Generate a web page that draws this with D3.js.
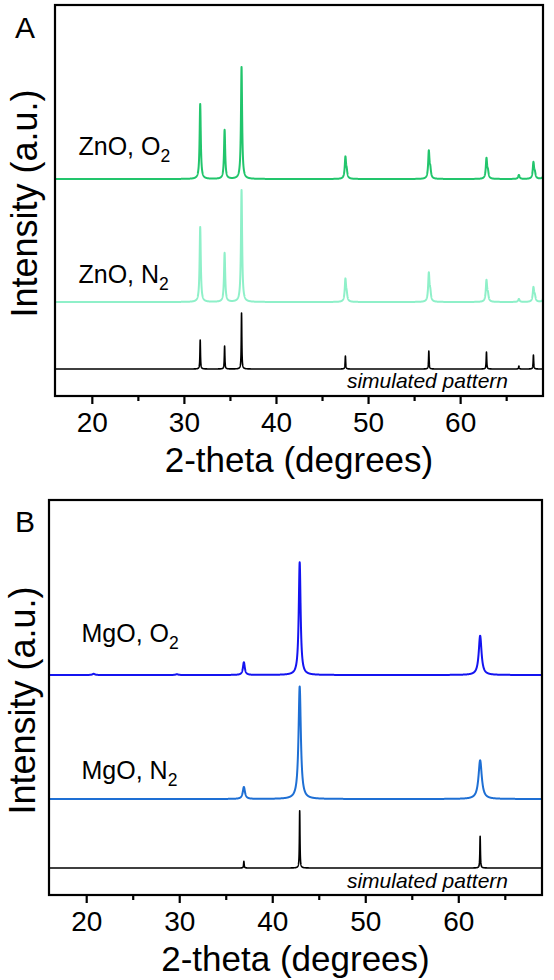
<!DOCTYPE html>
<html>
<head>
<meta charset="utf-8">
<script src="https://cdn.jsdelivr.net/npm/d3@7"></script>
<style>
  body { margin: 0; background: #fff; }
  text { font-family: "Liberation Sans", Arial, sans-serif; fill: #000; }
</style>
</head>
<body>
<div id="chart"></div>
<script>
// ZnO: peak positions (2-theta) and heights
const znoPeaks = [31.77, 34.42, 36.26, 47.54, 47.68, 56.6, 56.76, 62.86, 63.02, 66.38, 67.96, 68.12, 69.1]
const znoO2 = [75, 49, 112, 21, 6, 27, 8, 20, 6, 4, 16, 5, 8]
const znoN2 = [75, 49, 112, 22, 6, 28, 8, 21, 6, 3, 14, 5, 8]
const znoSim = [29, 23, 56, 13, 0, 18, 0, 17, 0, 3, 14, 0, 0]

// MgO: peak positions and heights
const mgoPeaks = [20.8, 29.75, 36.95, 42.95, 62.35]
const mgoO2 = [1.2, 0.8, 12.7, 112.7, 39.3]
const mgoN2 = [0, 0, 12, 112.6, 38.7]
const mgoSim = [0, 0, 6.7, 57.3, 31.7]

// peak half widths (degrees)
const znoWidth = [0.075, 0.075, 0.075, 0.085, 0.085, 0.085, 0.085, 0.085, 0.085, 0.09, 0.085, 0.085, 0.085]
const mgoO2Width = [0.15, 0.15, 0.12, 0.12, 0.18]
const mgoN2Width = [0.15, 0.15, 0.14, 0.15, 0.21]
const simWidth = 0.035

// vertical offsets of the stacked patterns (a.u.)
const znoOffsets = [217, 94, 27]
const mgoOffsets = [220, 96, 27]

const xTicks = [20, 30, 40, 50, 60]
const xMinor = [25, 35, 45, 55, 65]
const xDomain = [16, 69]

var width = 554
var height = 980

var svg = d3.select("#chart")
  .append("svg")
    .attr("width", width)
    .attr("height", height)

svg.append("rect").attr("width", width).attr("height", height).attr("fill", "#fff")

function profile(peaks, heights, widths, offset) {
  var pts = []
  for (var i = 0; i <= 5300; i++) {
    var t = xDomain[0] + i * 0.01
    var v = offset
    peaks.forEach(function(p, j) {
      var w = Array.isArray(widths) ? widths[j] : widths
      var d = (t - p) / w
      v += heights[j] / (1 + d * d)
    })
    pts.push([t, v])
  }
  return pts
}

function panel(cfg) {
  var x = d3.scaleLinear().domain(xDomain).range([cfg.left, cfg.right])
  var y = d3.scaleLinear().domain([0, cfg.bottom - cfg.top]).range([cfg.bottom, cfg.top])

  var g = svg.append("g")

  g.append("clipPath").attr("id", cfg.id)
    .append("rect")
      .attr("x", cfg.left).attr("y", cfg.top)
      .attr("width", cfg.right - cfg.left).attr("height", cfg.bottom - cfg.top)

  var line = d3.line()
    .x(function(d) { return x(d[0]) })
    .y(function(d) { return y(d[1]) })

  g.append("g").attr("clip-path", "url(#" + cfg.id + ")")
    .selectAll("path")
    .data(cfg.series)
    .enter()
    .append("path")
      .attr("d", function(s) { return line(profile(cfg.peaks, s.heights, s.widths, s.offset)) })
      .attr("fill", "none")
      .attr("stroke", function(s) { return s.color })
      .attr("stroke-width", function(s) { return s.lw })
      .attr("stroke-linejoin", "round")

  // frame
  g.append("rect")
    .attr("x", cfg.left).attr("y", cfg.top)
    .attr("width", cfg.right - cfg.left).attr("height", cfg.bottom - cfg.top)
    .attr("fill", "none").attr("stroke", "#000").attr("stroke-width", 2.2)

  var axis = g.append("g")
    .attr("transform", "translate(0," + cfg.bottom + ")")
    .call(d3.axisBottom(x).tickValues(xTicks).tickSize(8).tickPadding(8).tickFormat(d3.format("d")))
  axis.select(".domain").remove()
  axis.selectAll("line").attr("stroke-width", 2.2)
  axis.selectAll("text").attr("font-size", 28).style("font-family", '"Liberation Sans", Arial, sans-serif')

  var minor = g.append("g")
    .attr("transform", "translate(0," + cfg.bottom + ")")
    .call(d3.axisBottom(x).tickValues(xMinor).tickSize(5).tickFormat(""))
  minor.select(".domain").remove()
  minor.selectAll("line").attr("stroke-width", 2.2)

  // series labels with subscript
  cfg.series.forEach(function(s) {
    if (!s.label) return
    var t = g.append("text")
      .attr("x", x(s.labelAt))
      .attr("y", y(s.offset + s.labelUp))
      .attr("font-size", 25)
    t.append("tspan").text(s.label)
    t.append("tspan").attr("font-size", 17.5).attr("dy", 7).text(s.sub)
  })

  g.append("text")
    .attr("x", 508)
    .attr("y", y(cfg.series[2].offset) + cfg.simDrop)
    .attr("text-anchor", "end")
    .attr("font-size", 21)
    .attr("font-style", "italic")
    .text("simulated pattern")

  g.append("text")
    .attr("x", (cfg.left + cfg.right) / 2)
    .attr("y", cfg.bottom + 76)
    .attr("text-anchor", "middle")
    .attr("font-size", 35)
    .text("2-theta (degrees)")

  g.append("text")
    .attr("transform", "translate(" + cfg.yTitleX + "," + ((cfg.top + cfg.bottom) / 2 + 3) + ") rotate(-90)")
    .attr("text-anchor", "middle")
    .attr("font-size", 36)
    .text("Intensity (a.u.)")

  g.append("text")
    .attr("x", 25)
    .attr("y", cfg.top + cfg.letterY)
    .attr("text-anchor", "middle")
    .attr("font-size", 30)
    .text(cfg.letter)
}

panel({
  id: "clipA", letter: "A", letterY: 33,
  left: 55, right: 543, top: 5, bottom: 396, yTitleX: 37, simDrop: 19,
  peaks: znoPeaks,
  series: [
    { heights: znoO2, widths: znoWidth, offset: znoOffsets[0], color: "#22c56c", lw: 2, label: "ZnO, O", sub: "2", labelAt: 18.55, labelUp: 24 },
    { heights: znoN2, widths: znoWidth, offset: znoOffsets[1], color: "#8ff0c9", lw: 2, label: "ZnO, N", sub: "2", labelAt: 18.55, labelUp: 19 },
    { heights: znoSim, widths: simWidth, offset: znoOffsets[2], color: "#000", lw: 1.6 }
  ]
})

panel({
  id: "clipB", letter: "B", letterY: 32,
  left: 49, right: 542, top: 500, bottom: 895, yTitleX: 35, simDrop: 20,
  peaks: mgoPeaks,
  series: [
    { heights: mgoO2, widths: mgoO2Width, offset: mgoOffsets[0], color: "#1414f0", lw: 2, label: "MgO, O", sub: "2", labelAt: 19.5, labelUp: 33 },
    { heights: mgoN2, widths: mgoN2Width, offset: mgoOffsets[1], color: "#1e6fd4", lw: 2, label: "MgO, N", sub: "2", labelAt: 19.5, labelUp: 20 },
    { heights: mgoSim, widths: simWidth, offset: mgoOffsets[2], color: "#000", lw: 1.6 }
  ]
})
</script>
</body>
</html>
